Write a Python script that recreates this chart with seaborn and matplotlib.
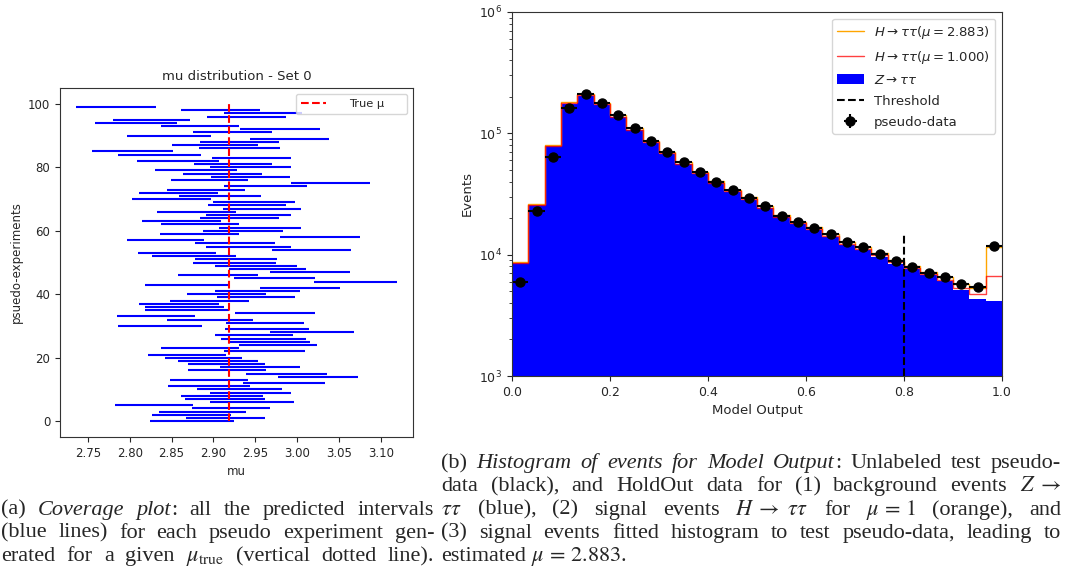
import numpy as np
import pandas as pd
import matplotlib
matplotlib.use("Agg")
import matplotlib.pyplot as plt
import seaborn as sns

W, H, DPI = 1065, 581, 100

# ---------------- (a) coverage plot data ----------------
true_mu = 2.919
mu_low = [2.824, 2.867, 2.827, 2.835, 2.874, 2.783, 2.896, 2.866, 2.861, 2.896,
          2.880, 2.846, 2.935, 2.848, 2.977, 2.939, 2.870, 2.908, 2.870, 2.858,
          2.842, 2.822, 2.913, 2.837, 2.930, 2.919, 2.909, 2.902, 2.968, 2.914,
          2.786, 2.915, 2.844, 2.785, 2.926, 2.818, 2.818, 2.811, 2.848, 2.904,
          2.868, 2.902, 2.956, 2.818, 3.020, 2.924, 2.858, 2.967, 2.919, 2.902,
          2.876, 2.878, 2.827, 2.810, 2.970, 2.891, 2.878, 2.797, 2.980, 2.836,
          2.887, 2.907, 2.837, 2.815, 2.884, 2.891, 2.833, 2.911, 2.893, 2.900,
          2.803, 2.859, 2.811, 2.845, 2.913, 2.992, 2.849, 2.897, 2.864, 2.830,
          2.896, 2.877, 2.809, 2.898, 2.786, 2.755, 2.883, 2.851, 2.884, 2.944,
          2.797, 2.876, 2.932, 2.837, 2.759, 2.780, 2.892, 2.913, 2.861, 2.736]
mu_high = [2.925, 2.961, 2.921, 2.939, 2.968, 2.876, 2.996, 2.961, 2.959, 2.992,
           2.982, 2.944, 3.033, 2.941, 3.073, 3.035, 2.963, 3.003, 2.962, 2.953,
           2.934, 2.915, 3.009, 2.930, 3.024, 3.015, 3.011, 2.995, 3.068, 3.014,
           2.886, 3.008, 2.947, 2.878, 3.021, 2.919, 2.912, 2.907, 2.943, 2.997,
           2.963, 3.003, 3.051, 2.918, 3.119, 3.021, 2.953, 3.063, 3.011, 3.000,
           2.975, 2.976, 2.927, 2.903, 3.064, 2.992, 2.974, 2.889, 3.075, 2.930,
           2.983, 3.005, 2.931, 2.909, 2.978, 2.993, 2.927, 3.004, 2.986, 2.997,
           2.897, 2.957, 2.905, 2.938, 3.012, 3.087, 2.941, 2.991, 2.958, 2.928,
           2.992, 2.970, 2.907, 2.992, 2.885, 2.852, 2.979, 2.953, 2.978, 3.038,
           2.897, 2.970, 3.027, 2.931, 2.857, 2.872, 2.986, 3.006, 2.955, 2.831]

# ---------------- (b) histogram data (30 bins on [0, 1]) ----------------
n_bins = 30
mu_fit = 2.883
threshold = 0.8
pseudo_data = [5900, 22800, 63700, 163000, 210000, 178000, 141000, 110000, 86000, 70000,
               57600, 48000, 40000, 34200, 29400, 25000, 21000, 18500, 16700, 14700,
               12600, 11500, 10100, 8870, 7910, 7100, 6500, 5760, 5370, 11800]
z_tautau = [8470, 25700, 78200, 176000, 205000, 172000, 136000, 106000, 83000, 67500,
            55500, 46300, 38600, 33000, 28400, 24100, 20300, 17800, 16100, 14100,
            12100, 11000, 9650, 8450, 7600, 6790, 6030, 5100, 4350, 4170]
h_tautau = [60, 200, 600, 1500, 1800, 1700, 1500, 1300, 1100, 900,
            750, 650, 550, 480, 420, 370, 330, 300, 280, 260,
            240, 220, 200, 190, 180, 160, 160, 220, 350, 2550]

edges = [i / n_bins for i in range(n_bins + 1)]
centers = np.array([(edges[i] + edges[i + 1]) / 2 for i in range(n_bins)])
bkg = np.array(z_tautau, dtype=float)
sig = np.array(h_tautau, dtype=float)
hist_df = pd.DataFrame({
    "x": centers,
    "bkg": bkg,
    "sig1": bkg + sig,
    "sigfit": bkg + mu_fit * sig,
})

sns.set_style("ticks")
plt.rcParams["font.family"] = ["DejaVu Sans"]
plt.rcParams["axes.edgecolor"] = "0.2"

fig = plt.figure(figsize=(W / DPI, H / DPI), dpi=DPI)

# ---------------- left panel ----------------
ax1 = fig.add_axes([60 / W, 1 - 437 / H, 353 / W, 349 / H])
ax1.hlines(y=np.arange(len(mu_low)), xmin=mu_low, xmax=mu_high, colors="blue", linewidth=1.5)
ax1.vlines(true_mu, 0, 100, colors="red", linestyles="--", linewidth=1.5, label="True μ     ")
ax1.set_title("mu distribution - Set 0", fontsize=9.5)
ax1.set_xlabel("mu", fontsize=8.5)
ax1.set_ylabel("psuedo-experiments", fontsize=8.5)
ax1.tick_params(labelsize=8.5)
ax1.legend(loc="upper right", fontsize=8.2, handlelength=2.2, handletextpad=2.0,
           borderpad=0.45, fancybox=True)

# ---------------- right panel ----------------
ax2 = fig.add_axes([512 / W, 1 - 376 / H, 490 / W, 364 / H])
sns.histplot(data=hist_df, x="x", weights="sigfit", bins=edges, element="step", fill=False,
             color="orange", linewidth=1.0, ax=ax2, label=r"$H\rightarrow\tau\tau(\mu=2.883)$")
sns.histplot(data=hist_df, x="x", weights="sig1", bins=edges, element="step", fill=False,
             color="red", alpha=0.75, linewidth=1.0, ax=ax2, label=r"$H\rightarrow\tau\tau(\mu=1.000)$")
sns.histplot(data=hist_df, x="x", weights="bkg", bins=edges, element="step", fill=True,
             color="blue", alpha=1, linewidth=0, ax=ax2, label=r"$Z\rightarrow\tau\tau$")
ax2.vlines(threshold, 1e3, 1.5e4, colors="black", linestyles="--", linewidth=1.5, label="Threshold")
ax2.errorbar(centers, pseudo_data, xerr=0.5 / n_bins, yerr=np.sqrt(pseudo_data), fmt="o",
             color="black", markersize=6.5, elinewidth=1.5, label="pseudo-data")
ax2.set_yscale("log")
ax2.set_xlim(0, 1)
ax2.set_ylim(1e3, 1e6)
ax2.set_xlabel("Model Output", fontsize=9.5)
ax2.set_ylabel("Events", fontsize=9.5)
ax2.tick_params(labelsize=9)
handles, labels = ax2.get_legend_handles_labels()
order = [r"$H\rightarrow\tau\tau(\mu=2.883)$", r"$H\rightarrow\tau\tau(\mu=1.000)$",
         r"$Z\rightarrow\tau\tau$", "Threshold", "pseudo-data"]
hmap = dict(zip(labels, handles))
ax2.legend([hmap[l] for l in order], order, loc="upper right", fontsize=9.5, labelspacing=0.6)

# ---------------- captions ----------------
caption_a = [
    "(a) *Coverage plot*: all the predicted intervals",
    "(blue lines) for each pseudo experiment gen-",
    r"erated for a given $\mu_{\mathrm{true}}$ (vertical dotted line).",
]
caption_b = [
    "(b) *Histogram of events for Model Output*: Unlabeled test pseudo-",
    r"data (black), and HoldOut data for (1) background events $Z\;\rightarrow$",
    r"$\tau\tau$ (blue), (2) signal events $H\;\rightarrow\;\tau\tau$ for $\mu\,=\,1$ (orange), and",
    "(3) signal events fitted histogram to test pseudo-data, leading to",
    r"estimated $\mu\,=\,2.883$.",
]

renderer = fig.canvas.get_renderer()


def parse_words(line, state):
    words, cur, inmath = [], "", False
    for ch in line:
        if ch == "$":
            inmath = not inmath
        if ch == " " and not inmath:
            words.append(cur)
            cur = ""
        else:
            cur += ch
    words.append(cur)
    out = []
    for w in words:
        pieces = []
        for j, chunk in enumerate(w.split("*")):
            if j > 0:
                state["ital"] = not state["ital"]
            if chunk:
                pieces.append((chunk, state["ital"]))
        out.append(pieces)
    return out


def draw_line(line, x0, ybase, x1=None, size=16, state=None):
    words = parse_words(line, state)
    arts, widths = [], []
    for pieces in words:
        ws = []
        for txt, it in pieces:
            t = fig.text(0, 0, txt, fontsize=size, family="Liberation Serif",
                         style="italic" if it else "normal", va="baseline", ha="left",
                         math_fontfamily="stix")
            ws.append((t, t.get_window_extent(renderer).width))
        arts.append(ws)
        widths.append(sum(w for _, w in ws))
    space = size * DPI / 72 * 0.25
    if x1 is not None and len(words) > 1:
        space = (x1 - x0 - sum(widths)) / (len(words) - 1)
    x = x0
    for ws in arts:
        for t, w in ws:
            t.set_position((x / W, 1 - ybase / H))
            x += w
        x += space


base0, dy = 468, 23.3
st = {"ital": False}
for k, line in enumerate(caption_b):
    draw_line(line, 441, base0 + k * dy, x1=1061 if k < 4 else None, state=st)
st = {"ital": False}
for k, line in enumerate(caption_a):
    draw_line(line, 1, base0 + (k + 2) * dy, x1=434, state=st)

fig.savefig("out.png", dpi=DPI)
